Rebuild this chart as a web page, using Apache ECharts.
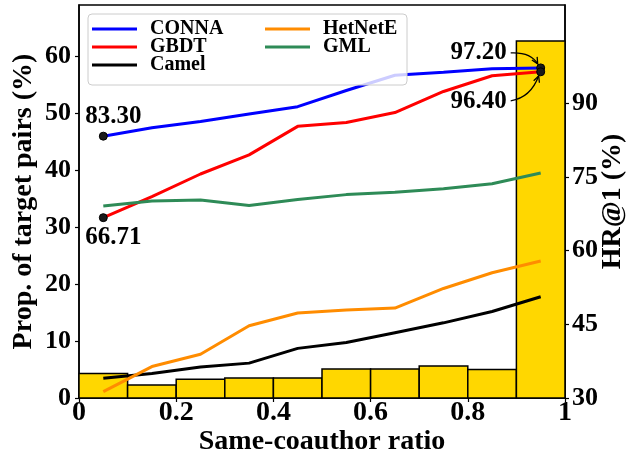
<!DOCTYPE html>
<html>
<head>
<meta charset="utf-8">
<script src="https://cdn.jsdelivr.net/npm/echarts@6/dist/echarts.min.js"></script>
<style>
  html, body { margin: 0; padding: 0; background: #fff; }
  #chart { width: 631px; height: 464px; }
</style>
</head>
<body>
<div id="chart"></div>
<script>
const FONT = 'Liberation Serif';

// histogram bins (same-coauthor ratio) and proportion of target pairs (%)
const binStart = [0, 0.1, 0.2, 0.3, 0.4, 0.5, 0.6, 0.7, 0.8, 0.9];
const binEnd = [0.1, 0.2, 0.3, 0.4, 0.5, 0.6, 0.7, 0.8, 0.9, 1.0];
const propPairs = [4.3, 2.3, 3.3, 3.5, 3.5, 5.1, 5.1, 5.6, 5.0, 62.7];

// HR@1 (%) at bin centres
const binCenter = [0.05, 0.15, 0.25, 0.35, 0.45, 0.55, 0.65, 0.75, 0.85, 0.95];
const conna = [83.3, 85.0, 86.3, 87.8, 89.3, 92.6, 95.7, 96.3, 97.0, 97.2];
const gbdt = [66.71, 71.0, 75.6, 79.5, 85.3, 86.1, 88.1, 92.4, 95.6, 96.4];
const camel = [34.0, 35.0, 36.3, 37.1, 40.1, 41.3, 43.3, 45.3, 47.6, 50.6];
const hetnete = [31.3, 36.4, 38.9, 44.7, 47.3, 47.9, 48.3, 52.3, 55.5, 57.9];
const gml = [69.1, 70.1, 70.3, 69.2, 70.4, 71.4, 71.9, 72.6, 73.6, 75.8];

const leftTicks = [0, 10, 20, 30, 40, 50, 60];
const rightTicks = [30, 45, 60, 75, 90];

const chart = echarts.init(document.getElementById('chart'));

const axisText = { fontFamily: FONT, fontWeight: 'bold', fontSize: 28, color: '#000' };
const yTickText = { fontFamily: FONT, fontWeight: 'bold', fontSize: 26, color: '#000' };

function lineSeries(name, values, color) {
  return {
    name: name,
    type: 'line',
    yAxisIndex: 1,
    data: binCenter.map((x, i) => [x, values[i]]),
    symbol: 'none',
    lineStyle: { color: color, width: 3 },
    itemStyle: { color: color },
    z: 3
  };
}

function endPoint(x, y, text, offset) {
  return {
    coord: [x, y],
    label: { show: true, formatter: text, position: 'inside', offset: offset }
  };
}

const pointStyle = {
  symbol: 'circle',
  symbolSize: 8,
  itemStyle: { color: '#1a1a1a', borderColor: '#000', borderWidth: 1 },
  label: { fontFamily: FONT, fontWeight: 'bold', fontSize: 25, color: '#000' }
};

const connaSeries = lineSeries('CONNA', conna, '#0000ff');
connaSeries.markPoint = Object.assign({}, pointStyle, {
  data: [
    endPoint(binCenter[0], conna[0], conna[0].toFixed(2), [10, -20]),
    endPoint(binCenter[9], conna[9], conna[9].toFixed(2), [-62, -15])
  ]
});
const gbdtSeries = lineSeries('GBDT', gbdt, '#ff0000');
gbdtSeries.markPoint = Object.assign({}, pointStyle, {
  data: [
    endPoint(binCenter[0], gbdt[0], gbdt[0].toFixed(2), [10, 20]),
    endPoint(binCenter[9], gbdt[9], gbdt[9].toFixed(2), [-62, 30])
  ]
});

const option = {
  animation: false,
  grid: {
    left: 79, right: 66, top: 5, bottom: 66,
    outerBoundsMode: 'none',
    show: true, borderColor: '#000', borderWidth: 1.5
  },
  legend: {
    orient: 'vertical',
    left: 88,
    top: 14,
    height: 66,
    itemGap: -2,
    itemWidth: 45,
    itemHeight: 3,
    icon: 'rect',
    padding: [5, 4, 10, 4],
    backgroundColor: 'rgba(255,255,255,0.8)',
    borderColor: '#ccc',
    borderWidth: 1,
    borderRadius: 4,
    textStyle: { fontFamily: FONT, fontWeight: 'bold', fontSize: 20, lineHeight: 16, color: '#000', padding: [0, 0, 0, 8], width: 117 },
    data: ['CONNA', 'GBDT', 'Camel',
      { name: 'HetNetE', textStyle: { width: 80 } },
      { name: 'GML', textStyle: { width: 80 } }]
  },
  xAxis: {
    type: 'value',
    min: 0,
    max: 1,
    interval: 0.2,
    name: 'Same-coauthor ratio',
    nameLocation: 'middle',
    nameGap: 30,
    nameMoveOverlap: false,
    nameTextStyle: axisText,
    axisLine: { lineStyle: { color: '#000', width: 1.5 } },
    axisTick: { show: true, length: 4, lineStyle: { color: '#000', width: 1.2 } },
    axisLabel: Object.assign({ margin: 1 }, axisText),
    splitLine: { show: false }
  },
  yAxis: [
    {
      type: 'value',
      min: 0,
      max: 69,
      interval: 10,
      name: 'Prop. of target pairs (%)',
      nameLocation: 'middle',
      nameGap: 41,
      nameMoveOverlap: false,
      nameTextStyle: axisText,
      axisLine: { show: true, lineStyle: { color: '#000', width: 1.5 } },
      axisTick: { show: true, length: 4, customValues: leftTicks, lineStyle: { color: '#000', width: 1.2 } },
      axisLabel: Object.assign({ margin: 8, customValues: leftTicks }, yTickText),
      splitLine: { show: false }
    },
    {
      type: 'value',
      min: 30,
      max: 110,
      interval: 15,
      name: 'HR@1 (%)',
      nameLocation: 'middle',
      nameRotate: 90,
      nameGap: 34,
      nameMoveOverlap: false,
      nameTextStyle: axisText,
      axisLine: { show: true, lineStyle: { color: '#000', width: 1.5 } },
      axisTick: { show: true, length: 4, customValues: rightTicks, lineStyle: { color: '#000', width: 1.2 } },
      axisLabel: Object.assign({ margin: 7, customValues: rightTicks }, yTickText),
      splitLine: { show: false }
    }
  ],
  series: [
    {
      name: 'Proportion',
      type: 'custom',
      yAxisIndex: 0,
      data: binStart.map((x, i) => [x, binEnd[i], propPairs[i]]),
      encode: { x: [0, 1], y: 2 },
      renderItem: function (params, api) {
        const topLeft = api.coord([api.value(0), api.value(2)]);
        const bottomRight = api.coord([api.value(1), 0]);
        return {
          type: 'rect',
          shape: {
            x: topLeft[0],
            y: topLeft[1],
            width: bottomRight[0] - topLeft[0],
            height: bottomRight[1] - topLeft[1]
          },
          style: { fill: '#ffd700', stroke: '#000', lineWidth: 1.5 }
        };
      },
      z: 1
    },
    connaSeries,
    gbdtSeries,
    lineSeries('Camel', camel, '#000000'),
    lineSeries('HetNetE', hetnete, '#ff8c00'),
    lineSeries('GML', gml, '#2e8b57')
  ]
};

chart.setOption(option);

// curved arrows from the end labels to the last points
function arrow(from, ctrl, to) {
  const ang = Math.atan2(to[1] - ctrl[1], to[0] - ctrl[0]);
  const len = 7;
  const spread = 0.45;
  return [
    {
      type: 'bezierCurve',
      shape: { x1: from[0], y1: from[1], cpx1: ctrl[0], cpy1: ctrl[1], x2: to[0], y2: to[1] },
      style: { stroke: '#000', lineWidth: 1.3, fill: null },
      z: 10
    },
    {
      type: 'polyline',
      shape: {
        points: [
          [to[0] - len * Math.cos(ang - spread), to[1] - len * Math.sin(ang - spread)],
          to,
          [to[0] - len * Math.cos(ang + spread), to[1] - len * Math.sin(ang + spread)]
        ]
      },
      style: { stroke: '#000', lineWidth: 1.3, fill: null },
      z: 10
    }
  ];
}

const pC = chart.convertToPixel({ xAxisIndex: 0, yAxisIndex: 1 }, [binCenter[9], conna[9]]);
const pG = chart.convertToPixel({ xAxisIndex: 0, yAxisIndex: 1 }, [binCenter[9], gbdt[9]]);
chart.setOption({
  graphic: arrow([pC[0] - 30, pC[1] - 15], [pC[0] - 10, pC[1] - 16], [pC[0] - 3, pC[1] - 4])
    .concat(arrow([pG[0] - 30, pG[1] + 29], [pG[0] - 10, pG[1] + 26], [pG[0] - 2, pG[1] + 4]))
});
</script>
</body>
</html>
